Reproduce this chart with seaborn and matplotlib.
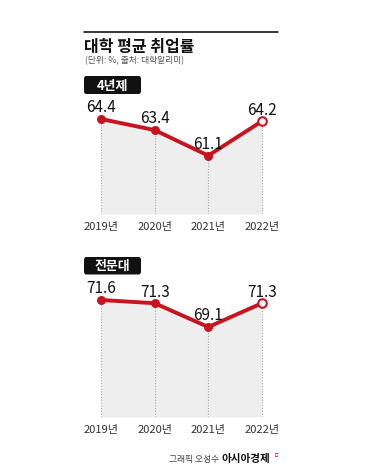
import matplotlib
matplotlib.use("Agg")
import matplotlib.pyplot as plt
from matplotlib.patches import FancyBboxPatch
import seaborn as sns
import pandas as pd

years = ["2019년", "2020년", "2021년", "2022년"]
univ4 = [64.4, 63.4, 61.1, 64.2]
college = [71.6, 71.3, 69.1, 71.3]

title = "대학 평균 취업률"
subtitle = "(단위: %, 출처: 대학알리미)"
panel_titles = ["4년제", "전문대"]
credit = "그래픽 오성수"
brand = "아시아경제"

sns.set_theme(style="white")
plt.rcParams["font.family"] = ["Noto Sans CJK KR", "DejaVu Sans"]

W, H = 373, 469
fig = plt.figure(figsize=(W / 100, H / 100), dpi=100)
fig.patch.set_facecolor("white")

RED = "#c8141e"


def px_rect(x0, y0, x1, y1):
    return [x0 / W, 1 - y1 / H, (x1 - x0) / W, (y1 - y0) / H]


def fx(x):
    return x / W


def fy(y):
    return 1 - y / H


def panel(rect, values, ylim, label):
    ax = fig.add_axes(rect)
    xs = list(range(len(years)))
    df = pd.DataFrame({"x": xs, "v": values})
    ax.fill_between(xs, values, ylim[0], color="#eeeeee", lw=0, zorder=1)
    ax.vlines(xs, ylim[0], values, colors="#a8a8a8", linestyles=(0, (1, 1.5)), lw=0.8, zorder=2)
    sns.lineplot(data=df, x="x", y="v", ax=ax, color=RED, lw=2.8, zorder=3)
    ax.scatter(xs[:-1], values[:-1], s=42, color=RED, zorder=4, linewidths=0)
    ax.scatter(xs[-1:], values[-1:], s=38, facecolor="white", edgecolor=RED, linewidths=1.5, zorder=4)
    for x, v in zip(xs, values):
        ax.annotate(f"{v:.1f}", (x, v), xytext=(0, 4.8), textcoords="offset points",
                    ha="center", va="baseline", fontsize=11, color="#111111")
    ax.set_xlim(-0.317, 3.30)
    ax.set_ylim(*ylim)
    ax.set_xticks(xs)
    ax.set_xticklabels(years, fontsize=8, color="#333333")
    ax.tick_params(axis="x", length=0, pad=6)
    ax.set_yticks([])
    ax.set_xlabel("")
    ax.set_ylabel("")
    for s in ax.spines.values():
        s.set_visible(False)
    ax.patch.set_alpha(0)
    return ax


panel(px_rect(84, 100, 278, 214), univ4, (55.84, 66.11), panel_titles[0])
panel(px_rect(84, 280, 278, 417), college, (60.77, 73.45), panel_titles[1])

# top rule
fig.add_artist(plt.Line2D([fx(84), fx(278)], [fy(32), fy(32)], color="black", lw=1.1))

fig.text(fx(84), fy(51.5), title, fontsize=11.5, fontweight="bold", color="#111111", ha="left", va="baseline")
fig.text(fx(85), fy(63.5), subtitle, fontsize=6.3, color="#555555", ha="left", va="baseline")

for (y0, y1), t in zip([(76, 94), (257, 274.5)], panel_titles):
    box = FancyBboxPatch((fx(84), fy(y1)), fx(141) - fx(84), fy(y0) - fy(y1),
                         boxstyle="round,pad=0,rounding_size=0.006", transform=fig.transFigure,
                         facecolor="#111111", edgecolor="none")
    fig.add_artist(box)
    fig.text(fx(112.5), fy((y0 + y1) / 2 + 0.5), t, fontsize=9.3, fontweight="bold", color="white",
             ha="center", va="center")

fig.text(fx(219), fy(462), credit, fontsize=6.3, color="#444444", ha="right", va="baseline")
fig.text(fx(222), fy(462), brand, fontsize=7.6, fontweight="bold", color="#111111", ha="left", va="baseline")
fig.text(fx(274), fy(457), "ㅁ", fontsize=4, color=RED, ha="left", va="baseline")

fig.savefig("out.png", dpi=100, facecolor="white")
